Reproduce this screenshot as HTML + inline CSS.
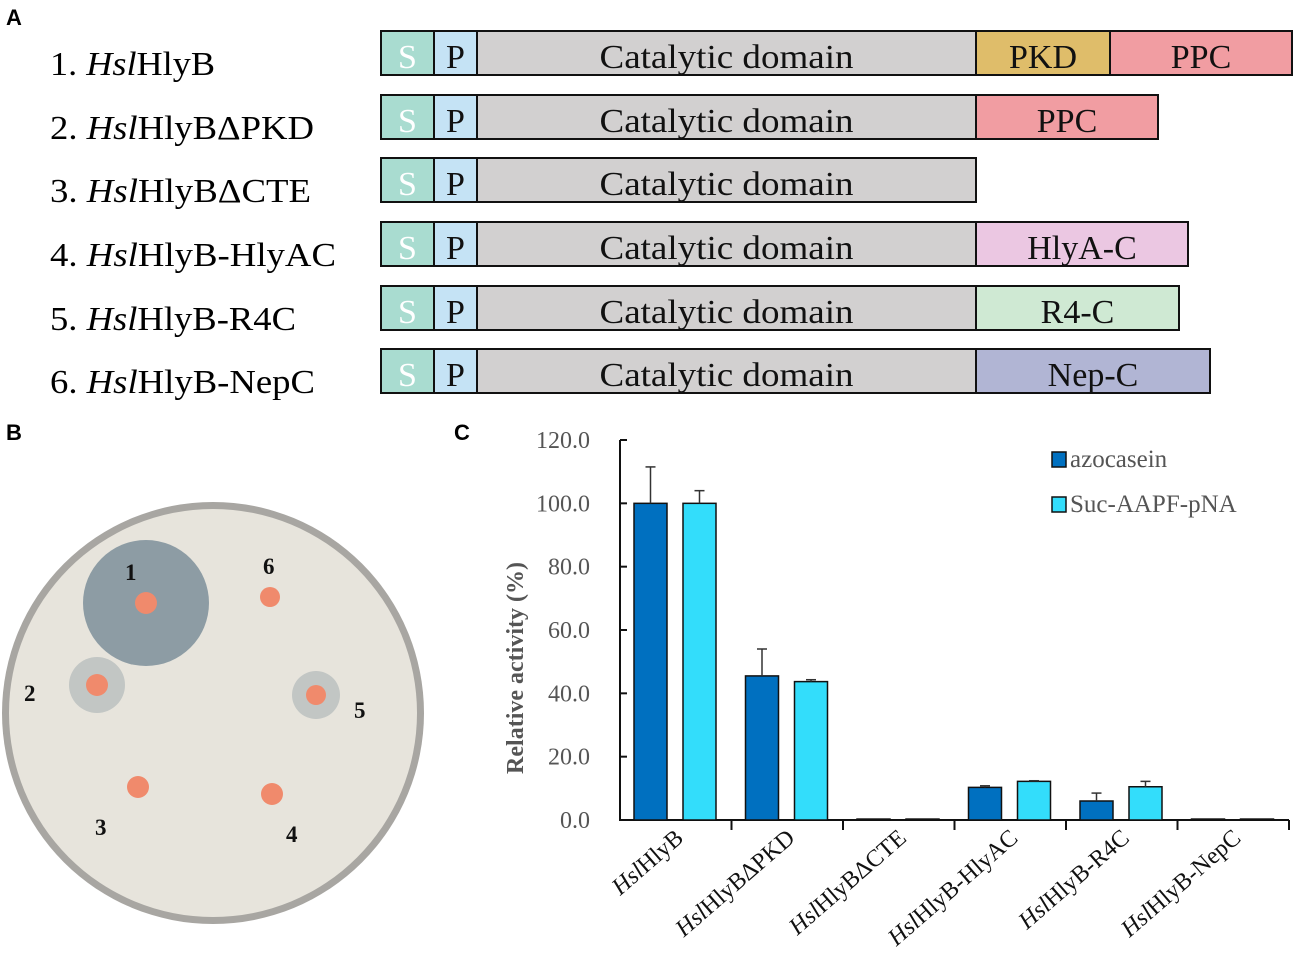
<!DOCTYPE html>
<html><head><meta charset="utf-8"><style>
body{margin:0;background:#fff;width:1299px;height:956px;overflow:hidden;font-family:"Liberation Serif",serif}
svg{display:block}
</style></head><body>
<svg width="1299" height="956" viewBox="0 0 1299 956">
<g font-family="Liberation Serif, serif">
<text x="6" y="25" font-family="Liberation Sans, sans-serif" font-weight="bold" font-size="22">A</text>
<g id="rows"></g>
</g>
<g>
<text x="6" y="440" font-family="Liberation Sans, sans-serif" font-weight="bold" font-size="22">B</text>
<circle cx="213" cy="713" r="211" fill="#a8a6a2"/>
<circle cx="213" cy="713" r="204" fill="#e7e4dc"/>
<circle cx="146" cy="603" r="63" fill="#8d9ca4"/>
<circle cx="97" cy="685" r="28" fill="#c2c6c4"/>
<circle cx="316" cy="695" r="24" fill="#c2c6c4"/>
<g fill="#f08a6c">
<circle cx="146" cy="603" r="11"/>
<circle cx="270" cy="597" r="10"/>
<circle cx="97" cy="685" r="11"/>
<circle cx="316" cy="695" r="10"/>
<circle cx="138" cy="787" r="11"/>
<circle cx="272" cy="794" r="11"/>
</g>
<g font-weight="bold" font-size="23" fill="#111">
<text x="125" y="580">1</text><text x="263" y="574">6</text><text x="24" y="701">2</text>
<text x="354" y="718">5</text><text x="95" y="835">3</text><text x="286" y="842">4</text>
</g>
</g>
<g>
<text x="454" y="440" font-family="Liberation Sans, sans-serif" font-weight="bold" font-size="22">C</text>
<g id="chart"></g>
</g>
</svg>
<script>
const NS='http://www.w3.org/2000/svg';
function mk(p,tag,at,txt){const e=document.createElementNS(NS,tag);for(const k in at)e.setAttribute(k,at[k]);if(txt!=null)e.textContent=txt;p.appendChild(e);return e;}
// Panel A
const rowNames=['HslHlyB','HslHlyBΔPKD','HslHlyBΔCTE','HslHlyB-HlyAC','HslHlyB-R4C','HslHlyB-NepC'];
const rowSuffix=['HlyB','HlyBΔPKD','HlyBΔCTE','HlyB-HlyAC','HlyB-R4C','HlyB-NepC'];
const extras=[[['PKD',976,1110,'#dfbd6a'],['PPC',1110,1292,'#f19da2']],[['PPC',976,1158,'#f19da2']],[],[['HlyA-C',976,1188,'#ebc7e2']],[['R4-C',976,1179,'#cfe9d3']],[['Nep-C',976,1210,'#b1b5d4']]];
const rows=document.getElementById('rows');
const rowTop=[31,95,158,222,286,349];
rowNames.forEach((n,i)=>{
 const y=rowTop[i];
 const g=mk(rows,'g',{});
 
 
 const t=mk(g,'text',{x:50,y:y+44,'font-size':34,textLength:[165,264,261,286,246,265][i],lengthAdjust:'spacingAndGlyphs'});
 
 
 mk(t,'tspan',{},(i+1)+'. ');mk(t,'tspan',{'font-style':'italic'},'Hsl');mk(t,'tspan',{},rowSuffix[i]);
 const segs=[['S',381,434,'#a9dcd0','#fff'],['P',434,477,'#c5e3f5','#111'],['Catalytic  domain',477,976,'#d2d0d0','#111']].concat(extras[i].map(e=>[e[0],e[1],e[2],e[3],'#111']));
 segs.forEach(s=>{
  const r=mk(g,'rect',{x:s[1],y:y,width:s[2]-s[1],height:44,fill:s[3],stroke:'#111','stroke-width':2});
  
  
  const at={x:(s[1]+s[2])/2,y:y+37,'text-anchor':'middle','font-size':34,fill:s[4],'xml:space':'preserve'};
  if(s[0].startsWith('Catalytic')){at.textLength=254;at.lengthAdjust='spacingAndGlyphs';}
  mk(g,'text',at,s[0]);
 });
});
// Panel C chart data
const categories=['HslHlyB','HslHlyBΔPKD','HslHlyBΔCTE','HslHlyB-HlyAC','HslHlyB-R4C','HslHlyB-NepC'];
const azocasein=[100,45.5,0.3,10.3,6.0,0.3];
const azocaseinErr=[11.5,8.5,0,0.5,2.5,0];
const sucAAPF=[100,43.7,0.3,12.2,10.5,0.3];
const sucAAPFErr=[4,0.6,0,0.2,1.7,0];
const yTicks=[0,20,40,60,80,100,120];
const yTickLabels=['0.0','20.0','40.0','60.0','80.0','100.0','120.0'];
const c=document.getElementById('chart');
const X0=620,X1=1289,Y0=820,Y1=440,YMAX=120;
const y=v=>Y0-(Y0-Y1)*v/YMAX;
const gw=(X1-X0)/categories.length;
const yax=mk(c,'line',{x1:X0,y1:Y1,x2:X0,y2:Y0+1,stroke:'#111','stroke-width':2});

const xax=mk(c,'line',{x1:X0,y1:Y0,x2:X1,y2:Y0,stroke:'#111','stroke-width':2});

yTicks.forEach((v,i)=>{
 mk(c,'line',{x1:X0,y1:y(v),x2:X0+7,y2:y(v),stroke:'#111','stroke-width':2});
 const t=mk(c,'text',{x:590,y:y(v)+8,'text-anchor':'end','font-size':24,fill:'#555'},yTickLabels[i]);
 
});
const yt=mk(c,'text',{transform:'translate(523,668) rotate(-90)','text-anchor':'middle','font-size':24,'font-weight':'bold',fill:'#555'},'Relative activity (%)');

function bar(v,e,x,col,name){
 const r=mk(c,'rect',{x:x,y:y(v),width:33,height:Y0-y(v),fill:col,stroke:'#111','stroke-width':1.5});
 
 if(e>0){const cx=x+16.5;mk(c,'line',{x1:cx,y1:y(v),x2:cx,y2:y(v+e),stroke:'#333','stroke-width':1.5});mk(c,'line',{x1:cx-5,y1:y(v+e),x2:cx+5,y2:y(v+e),stroke:'#333','stroke-width':1.5});}
}
categories.forEach((cat,i)=>{
 const gx=X0+gw*i;
 mk(c,'line',{x1:gx+gw,y1:Y0,x2:gx+gw,y2:Y0+10,stroke:'#111','stroke-width':2});
 bar(azocasein[i],azocaseinErr[i],gx+14,'#0070c0','bar-azocasein-'+(i+1));
 bar(sucAAPF[i],sucAAPFErr[i],gx+63,'#33ddfb','bar-suc-aapf-'+(i+1));
 const t=mk(c,'text',{transform:`translate(${gx+gw*0.58},840) rotate(-41)`,'text-anchor':'end','font-size':24,fill:'#111'});
 
 mk(t,'tspan',{'font-style':'italic'},'Hsl');mk(t,'tspan',{},cat.slice(3));
});
[['azocasein','#0070c0',449],['Suc-AAPF-pNA','#33ddfb',494]].forEach((l,i)=>{
 const g=mk(c,'g',{});
 
 mk(g,'rect',{x:1052,y:l[2]+3,width:14,height:15,fill:l[1],stroke:'#111','stroke-width':1.5});
 mk(g,'text',{x:1070,y:l[2]+18,'font-size':25,fill:'#555'},l[0]);
});
</script>
</body></html>
